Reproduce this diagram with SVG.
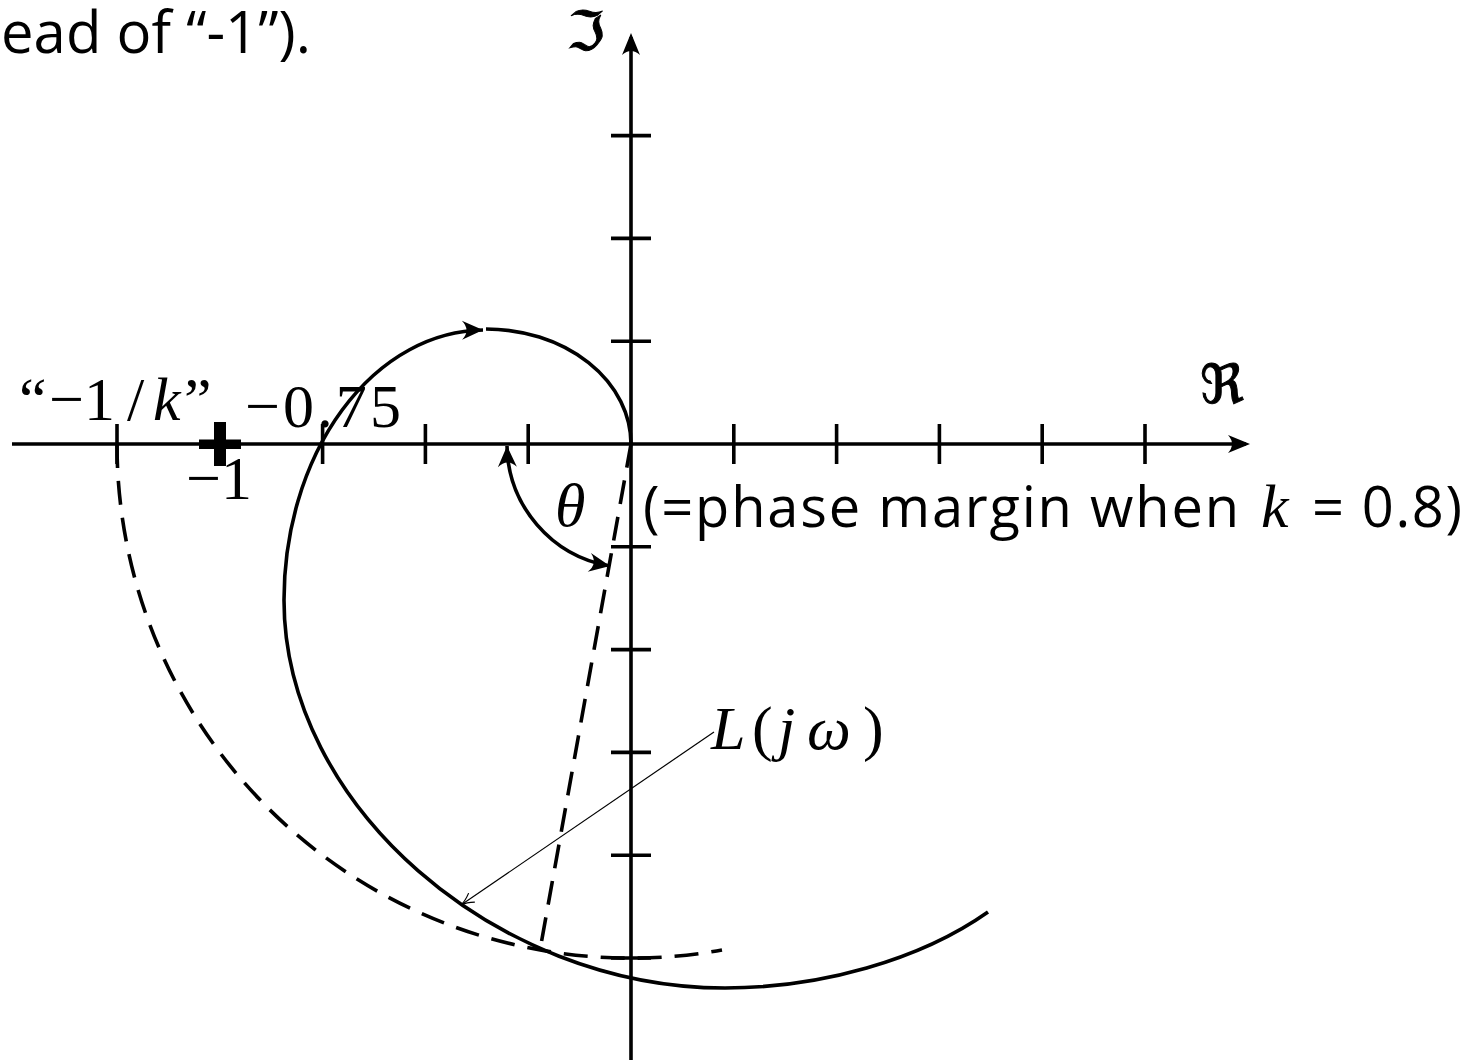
<svg xmlns="http://www.w3.org/2000/svg" width="1474" height="1060" viewBox="0 0 1474 1060">
<style>
.ax{stroke:#000;stroke-width:3.6;fill:none}
.cv{stroke:#000;stroke-width:3.6;fill:none}
.ds{stroke:#000;stroke-width:3.6;fill:none;stroke-dasharray:24 13}
.thin{stroke:#000;stroke-width:1.2;fill:none}
.sans{font-family:"Open Sans","DejaVu Sans",sans-serif;font-size:56px;fill:#000}
.top{font-size:58px}
.m{font-family:"Liberation Serif","Times New Roman",serif;font-size:62px;fill:#000}
.mi{font-style:italic}
.fr{font-family:"DejaVu Serif","DejaVu Sans",serif;font-size:54px;fill:#000;stroke:#000;stroke-width:1}
</style>
<defs>
<marker id="axh" viewBox="-24 -11 30 22" markerWidth="30" markerHeight="22" refX="-4" refY="0" orient="auto" markerUnits="userSpaceOnUse">
<path d="M0,0 L-22,-9 Q-14,0 -22,9 Z" fill="#000"/>
</marker>
<marker id="ch" viewBox="-24 -12 28 24" markerWidth="28" markerHeight="24" refX="0" refY="0" orient="auto-start-reverse" markerUnits="userSpaceOnUse">
<path d="M0,0 L-21,-9.5 Q-12,0 -21,9.5 Z" fill="#000"/>
</marker>
<marker id="th" viewBox="-14 -7 16 14" markerWidth="16" markerHeight="14" refX="0" refY="0" orient="auto" markerUnits="userSpaceOnUse">
<path d="M-13,-5.5 Q-6,-1 0,0 Q-6,1 -13,5.5" fill="none" stroke="#000" stroke-width="1.2"/>
</marker>
</defs>

<g id="axes">
<line class="ax" x1="12" y1="444" x2="1246" y2="444" marker-end="url(#axh)"/>
<line class="ax" x1="631" y1="1060" x2="631" y2="37" marker-end="url(#axh)"/>
<g id="ticks-x" class="ax">
<line x1="117" y1="424" x2="117" y2="464"/>
<line x1="219.8" y1="424" x2="219.8" y2="464"/>
<line x1="322.6" y1="424" x2="322.6" y2="464"/>
<line x1="425.4" y1="424" x2="425.4" y2="464"/>
<line x1="528.2" y1="424" x2="528.2" y2="464"/>
<line x1="733.8" y1="424" x2="733.8" y2="464"/>
<line x1="836.6" y1="424" x2="836.6" y2="464"/>
<line x1="939.4" y1="424" x2="939.4" y2="464"/>
<line x1="1042.2" y1="424" x2="1042.2" y2="464"/>
<line x1="1145" y1="424" x2="1145" y2="464"/>
</g>
<g id="ticks-y" class="ax">
<line x1="611" y1="135.6" x2="651" y2="135.6"/>
<line x1="611" y1="238.4" x2="651" y2="238.4"/>
<line x1="611" y1="341.2" x2="651" y2="341.2"/>
<line x1="611" y1="546.8" x2="651" y2="546.8"/>
<line x1="611" y1="649.6" x2="651" y2="649.6"/>
<line x1="611" y1="752.4" x2="651" y2="752.4"/>
<line x1="611" y1="855.2" x2="651" y2="855.2"/>
<line x1="611" y1="958" x2="651" y2="958"/>
</g>
<text class="fr" x="1200" y="403">ℜ</text>
<text class="fr" x="567" y="50">ℑ</text>
</g>

<g id="minus-one-point">
<rect x="199" y="439.5" width="42" height="9.5" fill="#000"/>
<rect x="214" y="422" width="12" height="44" fill="#000"/>
</g>

<g id="connectors">
<path id="circle-1-over-k" class="ds" d="M117,444 A514,514 0 0 0 722,950"/>
<path id="phase-line" class="ds" d="M631,444 L540,950"/>
<path id="theta-arc" class="cv" d="M507,446 A124,124 0 0 0 610,566" marker-start="url(#ch)" marker-end="url(#ch)"/>
<path id="L-curve" class="cv" d="M988,912 C920,960 820,988 725,988 C495,988 284,805 284,600 A201,270 0 0 1 483,330" marker-end="url(#ch)"/>
<path id="L-curve-top" class="cv" d="M486,329 A145,115 0 0 1 631,444"/>
<path id="L-pointer" class="thin" d="M714,732 L461,905" marker-end="url(#th)"/>
</g>

<g id="labels">
<text class="sans top" x="1" y="53" textLength="310">ead of “-1”).</text>
<text class="m" x="19" y="420">“</text>
<text class="m" x="49" y="420">−1</text>
<text class="m" x="127" y="420">/</text>
<text class="m mi" x="153" y="420">k</text>
<text class="m" x="184" y="420">”</text>
<text class="m" x="245" y="427" textLength="156">−0.75</text>
<text class="m" x="186" y="499">−1</text>
<text class="m mi" x="555" y="526">θ</text>
<text class="sans" x="643" y="527" textLength="596">(=phase margin when</text>
<text class="m mi" x="1261" y="527">k</text>
<text class="sans" x="1312" y="527" textLength="150">= 0.8)</text>
<g id="L-label">
<text class="m mi" x="711" y="749">L</text>
<text class="m" x="752" y="749">(</text>
<text class="m mi" x="778" y="749">j</text>
<text class="m mi" x="807" y="749">ω</text>
<text class="m" x="863" y="749">)</text>
</g>
</g>
</svg>
